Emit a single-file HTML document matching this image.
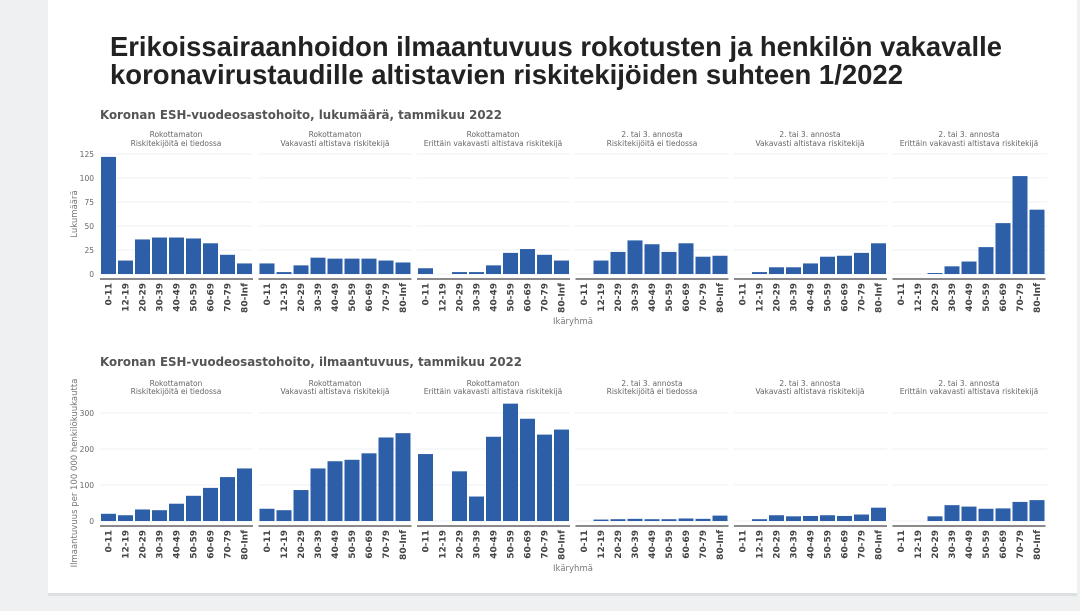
<!DOCTYPE html>
<html><head><meta charset="utf-8"><style>
html,body{margin:0;padding:0;background:#eef0f2;}
svg{display:block;font-family:"DejaVu Sans","Liberation Sans",sans-serif;}
.st{font-size:7.5px;fill:#666;text-anchor:middle}
.yt{font-size:7.5px;fill:#666;text-anchor:end}
.xl text{font-size:9px;font-weight:bold;fill:#444;text-anchor:end}
.g line{stroke:#eef0f3;stroke-width:1}
.b rect{fill:#2c5fa8}
</style></head><body>
<svg width="1080" height="611" viewBox="0 0 1080 611">
<rect x="0" y="0" width="1080" height="611" fill="#eef0f2"/>
<rect x="48" y="0" width="1029" height="593" fill="#fff"/>
<rect x="48" y="593" width="1029" height="3" fill="#dde0e3"/>
<text x="110" y="56" font-family="Liberation Sans,sans-serif" font-weight="bold" font-size="28" fill="#222" textLength="892" lengthAdjust="spacingAndGlyphs">Erikoissairaanhoidon ilmaantuvuus rokotusten ja henkilön vakavalle</text>
<text x="110" y="84" font-family="Liberation Sans,sans-serif" font-weight="bold" font-size="28" fill="#222" textLength="793" lengthAdjust="spacingAndGlyphs">koronavirustaudille altistavien riskitekijöiden suhteen  1/2022</text>

<text x="100" y="119" font-size="12" font-weight="bold" fill="#555" textLength="402" lengthAdjust="spacingAndGlyphs">Koronan ESH-vuodeosastohoito, lukumäärä, tammikuu 2022</text>
<text x="100" y="366" font-size="12" font-weight="bold" fill="#555" textLength="422" lengthAdjust="spacingAndGlyphs">Koronan ESH-vuodeosastohoito, ilmaantuvuus, tammikuu 2022</text>

<g class="st">
<text x="176" y="137">Rokottamaton</text><text x="176" y="146">Riskitekijöitä ei tiedossa</text>
<text x="335" y="137">Rokottamaton</text><text x="335" y="146">Vakavasti altistava riskitekijä</text>
<text x="493" y="137">Rokottamaton</text><text x="493" y="146">Erittäin vakavasti altistava riskitekijä</text>
<text x="652" y="137">2. tai 3. annosta</text><text x="652" y="146">Riskitekijöitä ei tiedossa</text>
<text x="810" y="137">2. tai 3. annosta</text><text x="810" y="146">Vakavasti altistava riskitekijä</text>
<text x="969" y="137">2. tai 3. annosta</text><text x="969" y="146">Erittäin vakavasti altistava riskitekijä</text>
<text x="176" y="386">Rokottamaton</text><text x="176" y="394">Riskitekijöitä ei tiedossa</text>
<text x="335" y="386">Rokottamaton</text><text x="335" y="394">Vakavasti altistava riskitekijä</text>
<text x="493" y="386">Rokottamaton</text><text x="493" y="394">Erittäin vakavasti altistava riskitekijä</text>
<text x="652" y="386">2. tai 3. annosta</text><text x="652" y="394">Riskitekijöitä ei tiedossa</text>
<text x="810" y="386">2. tai 3. annosta</text><text x="810" y="394">Vakavasti altistava riskitekijä</text>
<text x="969" y="386">2. tai 3. annosta</text><text x="969" y="394">Erittäin vakavasti altistava riskitekijä</text>
</g>

<g class="g">
<line x1="100" x2="1047" y1="154" y2="154"/><line x1="100" x2="1047" y1="178" y2="178"/><line x1="100" x2="1047" y1="202" y2="202"/><line x1="100" x2="1047" y1="226" y2="226"/><line x1="100" x2="1047" y1="250" y2="250"/><line x1="100" x2="1047" y1="274" y2="274"/>
<line x1="100" x2="1047" y1="413" y2="413"/><line x1="100" x2="1047" y1="449" y2="449"/><line x1="100" x2="1047" y1="485" y2="485"/><line x1="100" x2="1047" y1="521" y2="521"/>
</g>
<g fill="#fff">
<rect x="253" y="150" width="5" height="130"/><rect x="411.5" y="150" width="5" height="130"/><rect x="570" y="150" width="5" height="130"/><rect x="728.5" y="150" width="5" height="130"/><rect x="887" y="150" width="5" height="130"/>
<rect x="253" y="405" width="5" height="122"/><rect x="411.5" y="405" width="5" height="122"/><rect x="570" y="405" width="5" height="122"/><rect x="728.5" y="405" width="5" height="122"/><rect x="887" y="405" width="5" height="122"/>
</g>

<g class="yt">
<text x="94" y="157">125</text><text x="94" y="181">100</text><text x="94" y="205">75</text><text x="94" y="229">50</text><text x="94" y="253">25</text><text x="94" y="277">0</text>
<text x="94" y="416">300</text><text x="94" y="452">200</text><text x="94" y="488">100</text><text x="94" y="524">0</text>
</g>
<text transform="translate(77,214) rotate(-90)" font-size="8.5" fill="#777" text-anchor="middle">Lukumäärä</text>
<text transform="translate(77,473) rotate(-90)" font-size="8.5" fill="#777" text-anchor="middle">Ilmaantuvuus per 100 000 henkilökuukautta</text>
<text x="573" y="324" font-size="8.5" fill="#777" text-anchor="middle">Ikäryhmä</text>
<text x="573" y="571" font-size="8.5" fill="#777" text-anchor="middle">Ikäryhmä</text>

<g fill="#8a8a8a">
<rect x="100" y="278" width="153" height="2"/><rect x="258.5" y="278" width="153" height="2"/><rect x="417" y="278" width="153" height="2"/><rect x="575.5" y="278" width="153" height="2"/><rect x="734" y="278" width="153" height="2"/><rect x="892.5" y="278" width="153" height="2"/>
<rect x="100" y="525" width="153" height="2"/><rect x="258.5" y="525" width="153" height="2"/><rect x="417" y="525" width="153" height="2"/><rect x="575.5" y="525" width="153" height="2"/><rect x="734" y="525" width="153" height="2"/><rect x="892.5" y="525" width="153" height="2"/>
</g>

<g class="b">
<g transform="translate(100,274) scale(1,-0.96)"><rect x="1" width="15" height="122"/><rect x="18" width="15" height="14"/><rect x="35" width="15" height="36"/><rect x="52" width="15" height="38"/><rect x="69" width="15" height="38"/><rect x="86" width="15" height="37"/><rect x="103" width="15" height="32"/><rect x="120" width="15" height="20"/><rect x="137" width="15" height="11"/></g>
<g transform="translate(258.5,274) scale(1,-0.96)"><rect x="1" width="15" height="11"/><rect x="18" width="15" height="2"/><rect x="35" width="15" height="9"/><rect x="52" width="15" height="17"/><rect x="69" width="15" height="16"/><rect x="86" width="15" height="16"/><rect x="103" width="15" height="16"/><rect x="120" width="15" height="14"/><rect x="137" width="15" height="12"/></g>
<g transform="translate(417,274) scale(1,-0.96)"><rect x="1" width="15" height="6"/><rect x="35" width="15" height="2"/><rect x="52" width="15" height="2"/><rect x="69" width="15" height="9"/><rect x="86" width="15" height="22"/><rect x="103" width="15" height="26"/><rect x="120" width="15" height="20"/><rect x="137" width="15" height="14"/></g>
<g transform="translate(575.5,274) scale(1,-0.96)"><rect x="18" width="15" height="14"/><rect x="35" width="15" height="23"/><rect x="52" width="15" height="35"/><rect x="69" width="15" height="31"/><rect x="86" width="15" height="23"/><rect x="103" width="15" height="32"/><rect x="120" width="15" height="18"/><rect x="137" width="15" height="19"/></g>
<g transform="translate(734,274) scale(1,-0.96)"><rect x="18" width="15" height="2"/><rect x="35" width="15" height="7"/><rect x="52" width="15" height="7"/><rect x="69" width="15" height="11"/><rect x="86" width="15" height="18"/><rect x="103" width="15" height="19"/><rect x="120" width="15" height="22"/><rect x="137" width="15" height="32"/></g>
<g transform="translate(892.5,274) scale(1,-0.96)"><rect x="35" width="15" height="1"/><rect x="52" width="15" height="8"/><rect x="69" width="15" height="13"/><rect x="86" width="15" height="28"/><rect x="103" width="15" height="53"/><rect x="120" width="15" height="102"/><rect x="137" width="15" height="67"/></g>
</g>
<g class="b">
<g transform="translate(100,521) scale(1,-0.36)"><rect x="1" width="15" height="20"/><rect x="18" width="15" height="16"/><rect x="35" width="15" height="32"/><rect x="52" width="15" height="30"/><rect x="69" width="15" height="48"/><rect x="86" width="15" height="70"/><rect x="103" width="15" height="92"/><rect x="120" width="15" height="122"/><rect x="137" width="15" height="146"/></g>
<g transform="translate(258.5,521) scale(1,-0.36)"><rect x="1" width="15" height="34"/><rect x="18" width="15" height="30"/><rect x="35" width="15" height="86"/><rect x="52" width="15" height="146"/><rect x="69" width="15" height="166"/><rect x="86" width="15" height="170"/><rect x="103" width="15" height="188"/><rect x="120" width="15" height="232"/><rect x="137" width="15" height="244"/></g>
<g transform="translate(417,521) scale(1,-0.36)"><rect x="1" width="15" height="186"/><rect x="35" width="15" height="138"/><rect x="52" width="15" height="68"/><rect x="69" width="15" height="234"/><rect x="86" width="15" height="326"/><rect x="103" width="15" height="284"/><rect x="120" width="15" height="240"/><rect x="137" width="15" height="254"/></g>
<g transform="translate(575.5,521) scale(1,-0.36)"><rect x="18" width="15" height="4"/><rect x="35" width="15" height="5"/><rect x="52" width="15" height="6"/><rect x="69" width="15" height="5"/><rect x="86" width="15" height="5"/><rect x="103" width="15" height="7"/><rect x="120" width="15" height="6"/><rect x="137" width="15" height="15"/></g>
<g transform="translate(734,521) scale(1,-0.36)"><rect x="18" width="15" height="5"/><rect x="35" width="15" height="16"/><rect x="52" width="15" height="13"/><rect x="69" width="15" height="14"/><rect x="86" width="15" height="16"/><rect x="103" width="15" height="14"/><rect x="120" width="15" height="18"/><rect x="137" width="15" height="37"/></g>
<g transform="translate(892.5,521) scale(1,-0.36)"><rect x="35" width="15" height="13"/><rect x="52" width="15" height="44"/><rect x="69" width="15" height="40"/><rect x="86" width="15" height="34"/><rect x="103" width="15" height="35"/><rect x="120" width="15" height="53"/><rect x="137" width="15" height="58"/></g>
</g>

<g class="xl">
<g transform="translate(100,283)"><text transform="translate(11.5,0) rotate(-90)">0-11</text><text transform="translate(28.5,0) rotate(-90)">12-19</text><text transform="translate(45.5,0) rotate(-90)">20-29</text><text transform="translate(62.5,0) rotate(-90)">30-39</text><text transform="translate(79.5,0) rotate(-90)">40-49</text><text transform="translate(96.5,0) rotate(-90)">50-59</text><text transform="translate(113.5,0) rotate(-90)">60-69</text><text transform="translate(130.5,0) rotate(-90)">70-79</text><text transform="translate(147.5,0) rotate(-90)">80-Inf</text></g>
<g transform="translate(258.5,283)"><text transform="translate(11.5,0) rotate(-90)">0-11</text><text transform="translate(28.5,0) rotate(-90)">12-19</text><text transform="translate(45.5,0) rotate(-90)">20-29</text><text transform="translate(62.5,0) rotate(-90)">30-39</text><text transform="translate(79.5,0) rotate(-90)">40-49</text><text transform="translate(96.5,0) rotate(-90)">50-59</text><text transform="translate(113.5,0) rotate(-90)">60-69</text><text transform="translate(130.5,0) rotate(-90)">70-79</text><text transform="translate(147.5,0) rotate(-90)">80-Inf</text></g>
<g transform="translate(417,283)"><text transform="translate(11.5,0) rotate(-90)">0-11</text><text transform="translate(28.5,0) rotate(-90)">12-19</text><text transform="translate(45.5,0) rotate(-90)">20-29</text><text transform="translate(62.5,0) rotate(-90)">30-39</text><text transform="translate(79.5,0) rotate(-90)">40-49</text><text transform="translate(96.5,0) rotate(-90)">50-59</text><text transform="translate(113.5,0) rotate(-90)">60-69</text><text transform="translate(130.5,0) rotate(-90)">70-79</text><text transform="translate(147.5,0) rotate(-90)">80-Inf</text></g>
<g transform="translate(575.5,283)"><text transform="translate(11.5,0) rotate(-90)">0-11</text><text transform="translate(28.5,0) rotate(-90)">12-19</text><text transform="translate(45.5,0) rotate(-90)">20-29</text><text transform="translate(62.5,0) rotate(-90)">30-39</text><text transform="translate(79.5,0) rotate(-90)">40-49</text><text transform="translate(96.5,0) rotate(-90)">50-59</text><text transform="translate(113.5,0) rotate(-90)">60-69</text><text transform="translate(130.5,0) rotate(-90)">70-79</text><text transform="translate(147.5,0) rotate(-90)">80-Inf</text></g>
<g transform="translate(734,283)"><text transform="translate(11.5,0) rotate(-90)">0-11</text><text transform="translate(28.5,0) rotate(-90)">12-19</text><text transform="translate(45.5,0) rotate(-90)">20-29</text><text transform="translate(62.5,0) rotate(-90)">30-39</text><text transform="translate(79.5,0) rotate(-90)">40-49</text><text transform="translate(96.5,0) rotate(-90)">50-59</text><text transform="translate(113.5,0) rotate(-90)">60-69</text><text transform="translate(130.5,0) rotate(-90)">70-79</text><text transform="translate(147.5,0) rotate(-90)">80-Inf</text></g>
<g transform="translate(892.5,283)"><text transform="translate(11.5,0) rotate(-90)">0-11</text><text transform="translate(28.5,0) rotate(-90)">12-19</text><text transform="translate(45.5,0) rotate(-90)">20-29</text><text transform="translate(62.5,0) rotate(-90)">30-39</text><text transform="translate(79.5,0) rotate(-90)">40-49</text><text transform="translate(96.5,0) rotate(-90)">50-59</text><text transform="translate(113.5,0) rotate(-90)">60-69</text><text transform="translate(130.5,0) rotate(-90)">70-79</text><text transform="translate(147.5,0) rotate(-90)">80-Inf</text></g>
<g transform="translate(100,530)"><text transform="translate(11.5,0) rotate(-90)">0-11</text><text transform="translate(28.5,0) rotate(-90)">12-19</text><text transform="translate(45.5,0) rotate(-90)">20-29</text><text transform="translate(62.5,0) rotate(-90)">30-39</text><text transform="translate(79.5,0) rotate(-90)">40-49</text><text transform="translate(96.5,0) rotate(-90)">50-59</text><text transform="translate(113.5,0) rotate(-90)">60-69</text><text transform="translate(130.5,0) rotate(-90)">70-79</text><text transform="translate(147.5,0) rotate(-90)">80-Inf</text></g>
<g transform="translate(258.5,530)"><text transform="translate(11.5,0) rotate(-90)">0-11</text><text transform="translate(28.5,0) rotate(-90)">12-19</text><text transform="translate(45.5,0) rotate(-90)">20-29</text><text transform="translate(62.5,0) rotate(-90)">30-39</text><text transform="translate(79.5,0) rotate(-90)">40-49</text><text transform="translate(96.5,0) rotate(-90)">50-59</text><text transform="translate(113.5,0) rotate(-90)">60-69</text><text transform="translate(130.5,0) rotate(-90)">70-79</text><text transform="translate(147.5,0) rotate(-90)">80-Inf</text></g>
<g transform="translate(417,530)"><text transform="translate(11.5,0) rotate(-90)">0-11</text><text transform="translate(28.5,0) rotate(-90)">12-19</text><text transform="translate(45.5,0) rotate(-90)">20-29</text><text transform="translate(62.5,0) rotate(-90)">30-39</text><text transform="translate(79.5,0) rotate(-90)">40-49</text><text transform="translate(96.5,0) rotate(-90)">50-59</text><text transform="translate(113.5,0) rotate(-90)">60-69</text><text transform="translate(130.5,0) rotate(-90)">70-79</text><text transform="translate(147.5,0) rotate(-90)">80-Inf</text></g>
<g transform="translate(575.5,530)"><text transform="translate(11.5,0) rotate(-90)">0-11</text><text transform="translate(28.5,0) rotate(-90)">12-19</text><text transform="translate(45.5,0) rotate(-90)">20-29</text><text transform="translate(62.5,0) rotate(-90)">30-39</text><text transform="translate(79.5,0) rotate(-90)">40-49</text><text transform="translate(96.5,0) rotate(-90)">50-59</text><text transform="translate(113.5,0) rotate(-90)">60-69</text><text transform="translate(130.5,0) rotate(-90)">70-79</text><text transform="translate(147.5,0) rotate(-90)">80-Inf</text></g>
<g transform="translate(734,530)"><text transform="translate(11.5,0) rotate(-90)">0-11</text><text transform="translate(28.5,0) rotate(-90)">12-19</text><text transform="translate(45.5,0) rotate(-90)">20-29</text><text transform="translate(62.5,0) rotate(-90)">30-39</text><text transform="translate(79.5,0) rotate(-90)">40-49</text><text transform="translate(96.5,0) rotate(-90)">50-59</text><text transform="translate(113.5,0) rotate(-90)">60-69</text><text transform="translate(130.5,0) rotate(-90)">70-79</text><text transform="translate(147.5,0) rotate(-90)">80-Inf</text></g>
<g transform="translate(892.5,530)"><text transform="translate(11.5,0) rotate(-90)">0-11</text><text transform="translate(28.5,0) rotate(-90)">12-19</text><text transform="translate(45.5,0) rotate(-90)">20-29</text><text transform="translate(62.5,0) rotate(-90)">30-39</text><text transform="translate(79.5,0) rotate(-90)">40-49</text><text transform="translate(96.5,0) rotate(-90)">50-59</text><text transform="translate(113.5,0) rotate(-90)">60-69</text><text transform="translate(130.5,0) rotate(-90)">70-79</text><text transform="translate(147.5,0) rotate(-90)">80-Inf</text></g>
</g>
</svg>
</body></html>
